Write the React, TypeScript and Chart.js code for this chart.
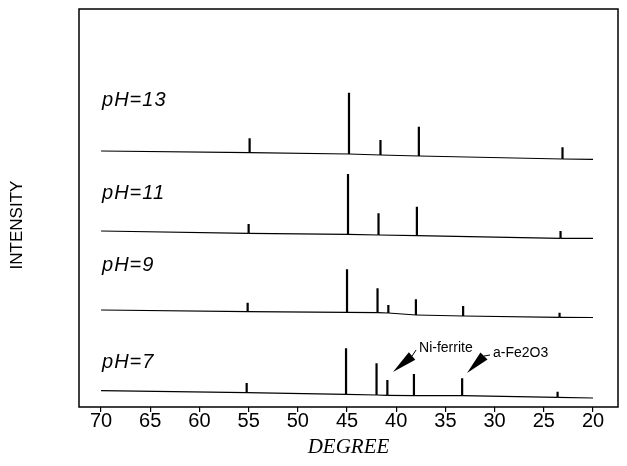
import React, { useEffect, useRef } from "react";
import { Chart, registerables } from "chart.js";

Chart.register(...registerables);

// ---- data ----
const degreeTicks = [70, 65, 60, 55, 50, 45, 40, 35, 30, 25, 20];
const seriesNames = ["pH=13", "pH=11", "pH=9", "pH=7"];

// pH = 13
const peaksPH13 = [54.9, 44.8, 41.6, 37.7, 23.1];
const topsPH13 = [267.7, 313.3, 266, 279.3, 258.7];
const basesPH13 = [253.3, 252, 251, 250, 247];
const endsPH13 = [255, 246.7];

// pH = 11
const peaksPH11 = [55.0, 44.9, 41.8, 37.9, 23.3];
const topsPH11 = [182, 232, 192.7, 199.3, 175];
const basesPH11 = [172.7, 171.7, 171, 170.3, 167.7];
const endsPH11 = [175, 167.7];

// pH = 9
const peaksPH9 = [55.1, 45.0, 41.9, 40.8, 38.0, 33.2, 23.4];
const topsPH9 = [103.3, 136.7, 117.7, 101, 106.8, 100, 93.3];
const basesPH9 = [94.3, 93.7, 93.3, 93, 91, 90, 88.7];
const endsPH9 = [96, 88.5];

// pH = 7
const peaksPH7 = [55.2, 45.1, 42.0, 40.9, 38.2, 33.3, 23.6];
const topsPH7 = [23, 57.7, 42.7, 26, 32, 27.7, 14.3];
const basesPH7 = [13.3, 11.7, 11, 10.7, 10.3, 10.3, 8.7];
const endsPH7 = [15.3, 8];

// series label anchors (degree, intensity)
const labelDegree = 69.9;
const labelLevels = [306, 213, 141, 44];

// annotations: text, arrow tip, arrow base, text anchor (degree, intensity)
const annotationTexts = ["Ni-ferrite", "a-Fe2O3"];
const annotationTips = [[40.33, 34], [32.8, 33]];
const annotationBases = [[38.39, 50], [31.08, 50]];
const annotationTextAt = [[37.68, 58], [30.16, 53]];

const yTitle = "INTENSITY";
const yTitleLevel = 181; // intensity value at which the axis title is centred

const xMin = 17.46;
const xMax = 72.24;
const yMin = -1;
const yMax = 397;

function trace(ends: number[], peaks: number[], bases: number[], tops: number[]) {
  const pts: { x: number; y: number }[] = [{ x: degreeTicks[0], y: ends[0] }];
  peaks.forEach((p, i) => {
    pts.push({ x: p, y: bases[i] }, { x: p, y: tops[i] }, { x: p, y: bases[i] });
  });
  pts.push({ x: degreeTicks[degreeTicks.length - 1], y: ends[1] });
  return pts;
}

const overlayPlugin = {
  id: "overlay",
  afterDraw(chart: any) {
    const { ctx, chartArea, scales } = chart;
    const xs = scales.x;
    const ys = scales.y;
    ctx.save();
    // frame
    ctx.strokeStyle = "#000";
    ctx.lineWidth = 1.5;
    ctx.strokeRect(chartArea.left, chartArea.top, chartArea.right - chartArea.left, chartArea.bottom - chartArea.top);

    // y axis title
    ctx.save();
    ctx.fillStyle = "#000";
    ctx.font = "17px 'Liberation Sans', Arial, sans-serif";
    ctx.textAlign = "center";
    ctx.textBaseline = "middle";
    ctx.translate(9, ys.getPixelForValue(yTitleLevel));
    ctx.rotate(-Math.PI / 2);
    ctx.fillText(yTitle, 0, 0);
    ctx.restore();

    // series labels
    ctx.fillStyle = "#000";
    ctx.font = "italic 20px 'Liberation Sans', Arial, sans-serif";
    (ctx as any).letterSpacing = "1px";
    ctx.textAlign = "left";
    ctx.textBaseline = "middle";
    seriesNames.forEach((name, i) => {
      ctx.fillText(name, xs.getPixelForValue(labelDegree), ys.getPixelForValue(labelLevels[i]));
    });
    (ctx as any).letterSpacing = "0px";

    // annotations
    annotationTexts.forEach((txt, i) => {
      const tx = xs.getPixelForValue(annotationTips[i][0]);
      const ty = ys.getPixelForValue(annotationTips[i][1]);
      const bx = xs.getPixelForValue(annotationBases[i][0]);
      const by = ys.getPixelForValue(annotationBases[i][1]);
      const lx = xs.getPixelForValue(annotationTextAt[i][0]);
      const ly = ys.getPixelForValue(annotationTextAt[i][1]);
      const dx = bx - tx;
      const dy = by - ty;
      const len = Math.hypot(dx, dy);
      const nx = -dy / len;
      const ny = dx / len;
      const hw = 5;
      ctx.beginPath();
      ctx.moveTo(tx, ty);
      ctx.lineTo(bx + nx * hw, by + ny * hw);
      ctx.lineTo(bx - nx * hw, by - ny * hw);
      ctx.closePath();
      ctx.fill();
      ctx.lineWidth = 1;
      ctx.beginPath();
      ctx.moveTo(bx, by);
      ctx.lineTo(lx - 3, ly + 2);
      ctx.stroke();
      ctx.font = "14px 'Liberation Sans', Arial, sans-serif";
      ctx.textBaseline = "middle";
      ctx.fillText(txt, lx, ly);
    });
    ctx.restore();
  },
};

export default function App() {
  const ref = useRef<HTMLCanvasElement | null>(null);

  useEffect(() => {
    if (!ref.current) return;
    const traces = [
      trace(endsPH13, peaksPH13, basesPH13, topsPH13),
      trace(endsPH11, peaksPH11, basesPH11, topsPH11),
      trace(endsPH9, peaksPH9, basesPH9, topsPH9),
      trace(endsPH7, peaksPH7, basesPH7, topsPH7),
    ];
    const chart = new Chart(ref.current, {
      type: "line",
      data: {
        datasets: traces.map((pts, i) => ({
          label: seriesNames[i],
          data: pts,
          borderColor: "#000",
          backgroundColor: "#000",
          borderWidth: 1.2,
          pointRadius: 0,
          tension: 0,
          fill: false,
          segment: {
            borderWidth: (c: any) => (c.p0.parsed.x === c.p1.parsed.x ? 2.2 : 1.2),
          },
        })),
      },
      options: {
        animation: false,
        responsive: false,
        events: [],
        layout: { padding: { top: 1, right: 1, left: 0, bottom: 0 } },
        plugins: { legend: { display: false }, tooltip: { enabled: false } },
        scales: {
          x: {
            type: "linear",
            reverse: true,
            min: xMin,
            max: xMax,
            afterFit: (s: any) => {
              s.height = 51;
            },
            afterBuildTicks: (s: any) => {
              s.ticks = degreeTicks.map((v) => ({ value: v }));
            },
            grid: {
              display: true,
              drawOnChartArea: false,
              drawTicks: true,
              tickLength: 5,
              color: "#000",
              lineWidth: 1.2,
            },
            border: { display: false },
            ticks: {
              color: "#000",
              padding: -3,
              maxRotation: 0,
              autoSkip: false,
              font: { family: "'Liberation Sans', Arial, sans-serif", size: 20 },
            },
            title: {
              display: true,
              text: "DEGREE",
              color: "#000",
              font: { family: "'Liberation Serif', 'Times New Roman', serif", size: 21, style: "italic", lineHeight: 1 },
              padding: { top: 0, bottom: 0 },
            },
          },
          y: {
            type: "linear",
            min: yMin,
            max: yMax,
            afterFit: (s: any) => {
              s.width = 71;
            },
            grid: { display: false },
            border: { display: false },
            ticks: { display: false },
            title: { display: false },
          },
        },
      },
      plugins: [overlayPlugin],
    });
    return () => chart.destroy();
  }, []);

  return (
    <div style={{ width: 611, height: 450 }}>
      <canvas ref={ref} width={611} height={450} style={{ display: "block" }} />
    </div>
  );
}
